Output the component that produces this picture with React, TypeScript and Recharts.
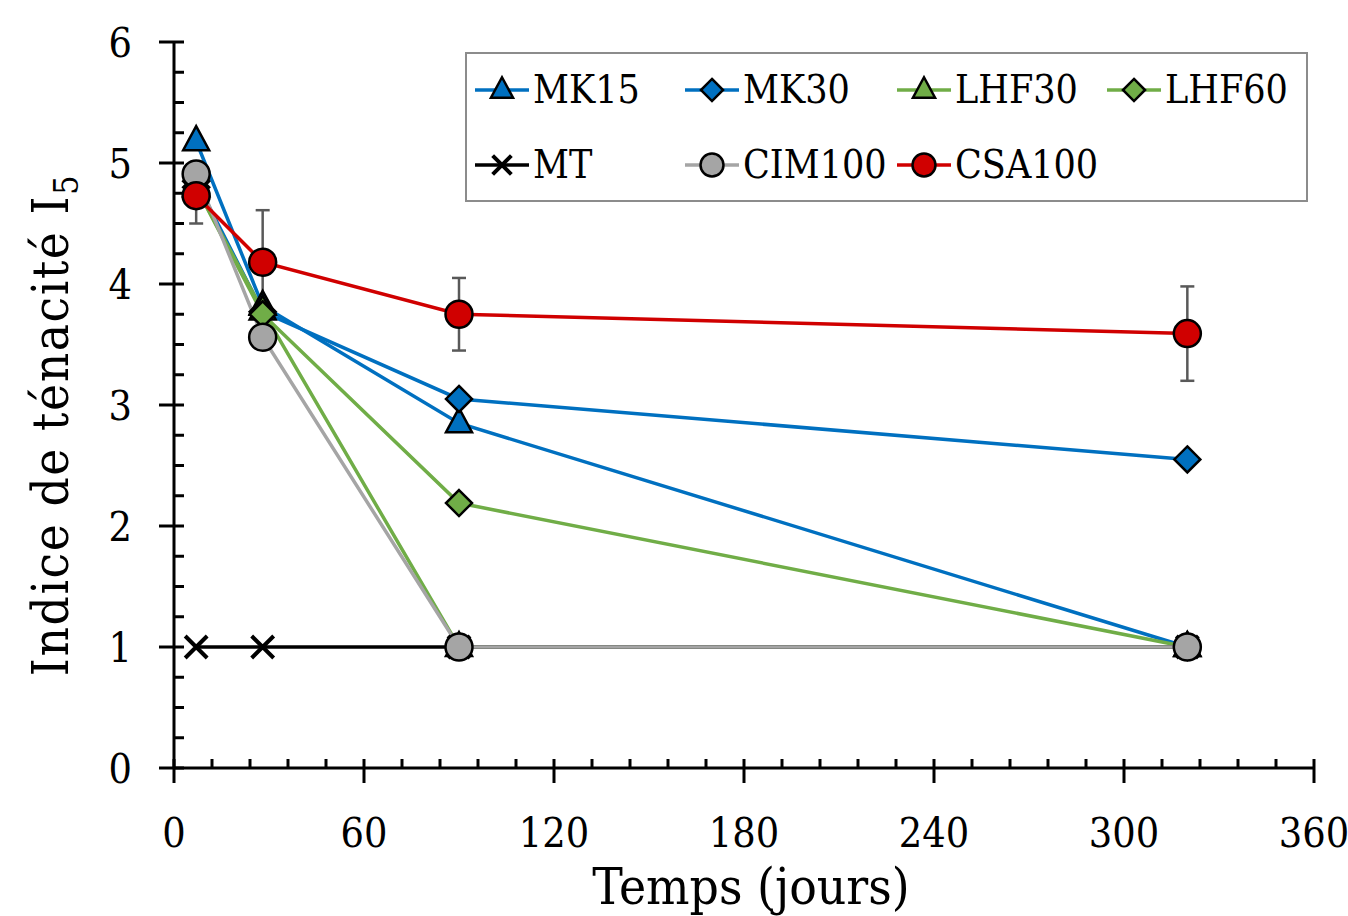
import { ErrorBar, Label, Legend, Line, LineChart, XAxis, YAxis } from "recharts";

// durée (jours) et indice de ténacité I5 par mélange
const days = [7, 28, 90, 320];
const mk15 = [5.18, 3.82, 2.85, 1.0];
const mk30 = [4.85, 3.77, 3.05, 2.55];
const lhf30 = [4.8, 3.78, 1.0, 1.0];
const lhf60 = [4.8, 3.75, 2.19, 1.0];
const mt = [1.0, 1.0, 1.0, 1.0];
const cim100 = [4.91, 3.56, 1.0, 1.0];
const csa100 = [4.73, 4.18, 3.75, 3.59];
const csa100Err = [0.23, 0.43, 0.3, 0.39];

const xTicks = [
  0, 12, 24, 36, 48, 60, 72, 84, 96, 108, 120, 132, 144, 156, 168, 180, 192, 204,
  216, 228, 240, 252, 264, 276, 288, 300, 312, 324, 336, 348, 360,
];
const yTicks = [
  0, 0.25, 0.5, 0.75, 1, 1.25, 1.5, 1.75, 2, 2.25, 2.5, 2.75, 3, 3.25, 3.5, 3.75, 4,
  4.25, 4.5, 4.75, 5, 5.25, 5.5, 5.75, 6,
];

const BLUE = "#0070C0";
const GREEN = "#70AD47";
const GREY = "#A5A5A5";
const RED = "#D00000";
const FONT = "'DejaVu Serif Condensed', 'DejaVu Serif', serif";

type MarkerKind = "triangle" | "diamond" | "circle" | "cross";

const series: { key: string; name: string; color: string; marker: MarkerKind }[] = [
  { key: "mk15", name: "MK15", color: BLUE, marker: "triangle" },
  { key: "mk30", name: "MK30", color: BLUE, marker: "diamond" },
  { key: "lhf30", name: "LHF30", color: GREEN, marker: "triangle" },
  { key: "lhf60", name: "LHF60", color: GREEN, marker: "diamond" },
  { key: "mt", name: "MT", color: "#000000", marker: "cross" },
  { key: "cim100", name: "CIM100", color: GREY, marker: "circle" },
  { key: "csa100", name: "CSA100", color: RED, marker: "circle" },
];

const data = days.map((day, i) => ({
  day,
  mk15: mk15[i],
  mk30: mk30[i],
  lhf30: lhf30[i],
  lhf60: lhf60[i],
  mt: mt[i],
  cim100: cim100[i],
  csa100: csa100[i],
  csa100Err: csa100Err[i],
}));

function Marker({
  kind,
  cx,
  cy,
  fill,
  s = 1,
}: {
  kind: MarkerKind;
  cx: number;
  cy: number;
  fill: string;
  s?: number;
}) {
  if (kind === "triangle") {
    const pts = `${cx},${cy - 15 * s} ${cx - 13 * s},${cy + 9 * s} ${cx + 13 * s},${cy + 9 * s}`;
    return <polygon points={pts} fill={fill} stroke="#000" strokeWidth={2.5} strokeLinejoin="miter" />;
  }
  if (kind === "diamond") {
    const r = 13 * s;
    const pts = `${cx},${cy - r} ${cx + r},${cy} ${cx},${cy + r} ${cx - r},${cy}`;
    return <polygon points={pts} fill={fill} stroke="#000" strokeWidth={2.5} />;
  }
  if (kind === "circle") {
    return <circle cx={cx} cy={cy} r={13.5 * s} fill={fill} stroke="#000" strokeWidth={2.5} />;
  }
  const d = 11 * s;
  return (
    <path
      d={`M${cx - d},${cy - d}L${cx + d},${cy + d}M${cx - d},${cy + d}L${cx + d},${cy - d}`}
      stroke="#000"
      strokeWidth={4}
      fill="none"
    />
  );
}

function XTick({ x, y, payload }: any) {
  const v = payload.value;
  const major = v % 60 === 0;
  return (
    <g>
      <line x1={x} x2={x} y1={y - 9} y2={major ? y + 15 : y} stroke="#000" strokeWidth={3} />
      {major && (
        <text
          x={x}
          y={y + 79}
          textAnchor="middle"
          fill="#000"
          style={{ fontFamily: FONT, fontSize: 41, fontStretch: "condensed" }}
        >
          {v}
        </text>
      )}
    </g>
  );
}

function YTick({ x, y, payload }: any) {
  const v = payload.value;
  const major = Number.isInteger(v);
  return (
    <g>
      <line x1={major ? x - 15 : x} x2={x + 10} y1={y} y2={y} stroke="#000" strokeWidth={3} />
      {major && (
        <text
          x={x - 42}
          y={y + 15}
          textAnchor="end"
          fill="#000"
          style={{ fontFamily: FONT, fontSize: 41, fontStretch: "condensed" }}
        >
          {v}
        </text>
      )}
    </g>
  );
}

const legendCols = [10, 220, 432, 642];
const legendRows = [38, 113];

function ChartLegend() {
  return (
    <div
      style={{
        position: "relative",
        width: 843,
        height: 150,
        boxSizing: "border-box",
        border: "2px solid #8c8c8c",
        background: "#fff",
        fontFamily: FONT,
        fontStretch: "condensed",
        fontSize: 39,
        color: "#000",
      }}
    >
      {series.map((item, i) => {
        const col = i < 4 ? i : i - 4;
        const row = i < 4 ? 0 : 1;
        return (
          <div
            key={item.key}
            style={{
              position: "absolute",
              left: legendCols[col] - 2,
              top: legendRows[row] - 2 - 25,
              height: 50,
              display: "flex",
              alignItems: "center",
              whiteSpace: "nowrap",
            }}
          >
            <svg width={54} height={50} style={{ display: "block" }}>
              <line x1={0} x2={54} y1={25} y2={25} stroke={item.color} strokeWidth={3.5} />
              <Marker kind={item.marker} cx={27} cy={25} fill={item.color} s={0.85} />
            </svg>
            <span style={{ marginLeft: 4, lineHeight: "50px" }}>{item.name}</span>
          </div>
        );
      })}
    </div>
  );
}

export default function App() {
  return (
    <div style={{ position: "absolute", left: 0, top: 0, background: "#fff" }}>
      <LineChart width={1348} height={916} data={data} margin={{ top: 42, right: 34, bottom: 0, left: 0 }}>
        <XAxis
          dataKey="day"
          type="number"
          domain={[0, 360]}
          ticks={xTicks}
          interval={0}
          tickSize={0}
          tickMargin={0}
          tickLine={false}
          height={148}
          axisLine={{ stroke: "#000", strokeWidth: 3 }}
          tick={<XTick />}
        >
          <Label
            content={() => (
              <text
                x={751}
                y={904}
                textAnchor="middle"
                fill="#000"
                style={{ fontFamily: FONT, fontSize: 51, fontStretch: "condensed" }}
              >
                Temps (jours)
              </text>
            )}
          />
        </XAxis>
        <YAxis
          type="number"
          domain={[0, 6]}
          ticks={yTicks}
          interval={0}
          tickSize={0}
          tickMargin={0}
          tickLine={false}
          width={174}
          axisLine={{ stroke: "#000", strokeWidth: 3 }}
          tick={<YTick />}
        >
          <Label
            content={() => (
              <text
                x={68}
                y={425}
                transform="rotate(-90, 68, 425)"
                textAnchor="middle"
                fill="#000"
                style={{ fontFamily: FONT, fontSize: 51, fontStretch: "condensed", letterSpacing: 1.5 }}
              >
                Indice de ténacité I
                <tspan fontSize={34} dy={10}>
                  5
                </tspan>
              </text>
            )}
          />
        </YAxis>
        <Legend
          layout="horizontal"
          align="center"
          verticalAlign="middle"
          wrapperStyle={{ position: "absolute", left: 465, top: 52, width: 843, height: 150 }}
          content={() => <ChartLegend />}
        />
        {series.map((item) => (
          <Line
            key={item.key}
            dataKey={item.key}
            name={item.name}
            stroke={item.color}
            strokeWidth={3.5}
            isAnimationActive={false}
            activeDot={false}
            dot={(p: any) => (
              <Marker key={`${item.key}-${p.index}`} kind={item.marker} cx={p.cx} cy={p.cy} fill={item.color} />
            )}
          >
            {item.key === "csa100" && (
              <ErrorBar dataKey="csa100Err" direction="y" width={7} stroke="#595959" strokeWidth={2.5} />
            )}
          </Line>
        ))}
      </LineChart>
    </div>
  );
}
